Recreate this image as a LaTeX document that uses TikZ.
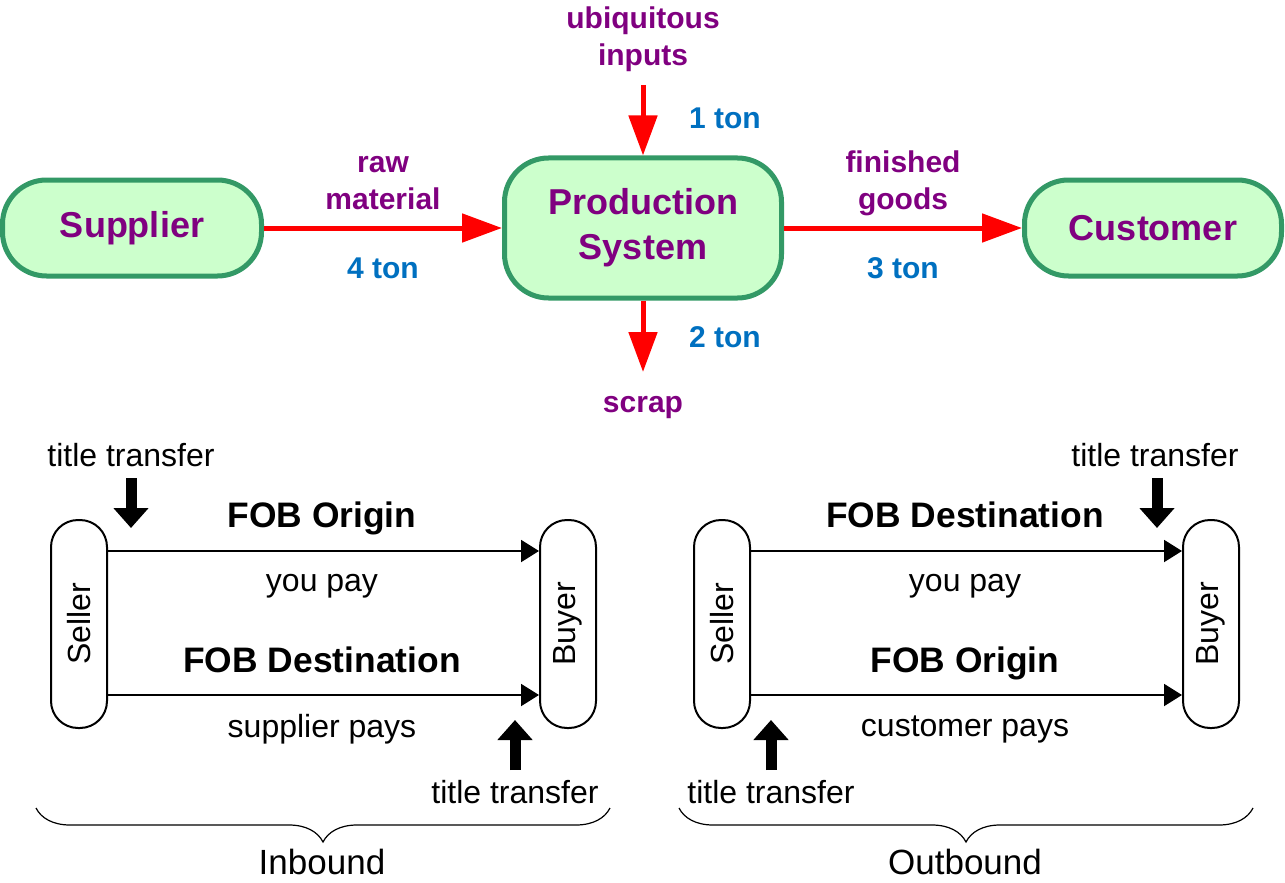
\documentclass[tikz,border=0pt]{standalone}
\usepackage{fontspec}
\usepackage{graphicx}
\setmainfont{Liberation Sans}
\usetikzlibrary{arrows.meta,decorations.pathreplacing}
\definecolor{boxgreen}{HTML}{CCFFCC}
\definecolor{edgegreen}{HTML}{339966}
\definecolor{labpurple}{HTML}{800080}
\definecolor{tonblue}{HTML}{0070C0}
\tikzset{
  procbox/.style={draw=edgegreen,fill=boxgreen,line width=2.5pt,rounded corners=22pt,align=center,
    text=labpurple,font=\fontsize{18}{22.5}\selectfont\bfseries},
  flow/.style={red,line width=2.5pt,-{Triangle[width=14pt,length=20pt]}},
  flowlab/.style={text=labpurple,align=center,font=\fontsize{15}{18.5}\selectfont\bfseries},
  tonlab/.style={text=tonblue,font=\fontsize{15}{18}\selectfont\bfseries},
  party/.style={draw,line width=1pt,rounded corners=13.5pt,minimum width=28pt,minimum height=104pt,
    inner sep=0pt,font=\fontsize{16}{19}\selectfont},
  pay/.style={line width=1pt,-{Triangle[width=11pt,length=9pt]}},
  titlearrow/.style={line width=5.5pt,-{Triangle[width=17pt,length=10pt]}},
  normtext/.style={font=\fontsize{16}{19}\selectfont},
  fob/.style={anchor=base,font=\fontsize{17.7}{20}\selectfont\bfseries},
}
\begin{document}
\begin{tikzpicture}[x=0.5pt,y=-0.5pt]
  \useasboundingbox (0,0) rectangle (1285,883);

  % material flow
  \node[procbox,minimum width=129.5pt,minimum height=48pt] (supplier) at (132,228) {Supplier};
  \node[procbox,minimum width=138.5pt,minimum height=70pt] (prod) at (643,228) {Production\\System};
  \node[procbox,minimum width=128.5pt,minimum height=48pt] (customer) at (1153,228) {Customer};

  \node[flowlab] (ubiq) at (643,39) {ubiquitous\\inputs};
  \node[flowlab] (raw) at (383,183) {raw\\material};
  \node[flowlab] (finished) at (903,183) {finished\\goods};
  \node[flowlab] (scrap) at (643,408) {scrap};
  \coordinate (ubiqend) at (643,85);
  \coordinate (scrapend) at (643,372);

  \node[tonlab] (t1) at (725,118) {1 ton};
  \node[tonlab] (t4) at (383,268) {4 ton};
  \node[tonlab] (t3) at (903,268) {3 ton};
  \node[tonlab] (t2) at (725,337) {2 ton};

  \draw[flow] (supplier) -- (prod);
  \draw[flow] (prod) -- (customer);
  \draw[flow] (ubiqend) -- (prod);
  \draw[flow] (prod) -- (scrapend);

  % inbound / outbound
  \foreach \nm/\dx/\upper/\lower/\payer/\side in
    {in/0/FOB Origin/FOB Destination/supplier/Inbound,
     out/643/FOB Destination/FOB Origin/customer/Outbound} {
    \node[party] (sell\nm) at (79+\dx,624) {\rotatebox{90}{Seller}};
    \node[party] (buy\nm) at (568+\dx,624) {\rotatebox{90}{Buyer}};
    \draw[pay] (sell\nm.east |- 0,551) -- (buy\nm.west |- 0,551);
    \draw[pay] (sell\nm.east |- 0,695) -- (buy\nm.west |- 0,695);
    \node[fob] (fobtop\nm) at (322+\dx,527) {\upper};
    \node[normtext] (youpay\nm) at (322+\dx,586) {you pay};
    \node[fob] (fobbot\nm) at (322+\dx,672) {\lower};
    \node[normtext] (pays\nm) at (322+\dx,729) {\payer{} pays};
    \coordinate (bl\nm) at (36+\dx,808);
    \coordinate (br\nm) at (610+\dx,808);
    \draw[line width=0.6pt,decorate,decoration={brace,mirror,amplitude=17pt}] (bl\nm) -- (br\nm);
    \node[normtext,font=\fontsize{17.5}{20}\selectfont] (side\nm) at (322+\dx,862) {\side};
  }

  % title transfer marks
  \node[normtext] (ttin1) at (131,455) {title transfer};
  \node[normtext] (ttin2) at (515,792) {title transfer};
  \node[normtext] (ttout1) at (1155,455) {title transfer};
  \node[normtext] (ttout2) at (771,792) {title transfer};
  \coordinate (ain1) at (131,478);  \coordinate (bin1) at (131,528);
  \coordinate (ain2) at (515,770);  \coordinate (bin2) at (515,720);
  \coordinate (aout1) at (1157,478); \coordinate (bout1) at (1157,528);
  \coordinate (aout2) at (771,770);  \coordinate (bout2) at (771,720);
  \draw[titlearrow] (ain1) -- (bin1);
  \draw[titlearrow] (ain2) -- (bin2);
  \draw[titlearrow] (aout1) -- (bout1);
  \draw[titlearrow] (aout2) -- (bout2);
\end{tikzpicture}
\end{document}
